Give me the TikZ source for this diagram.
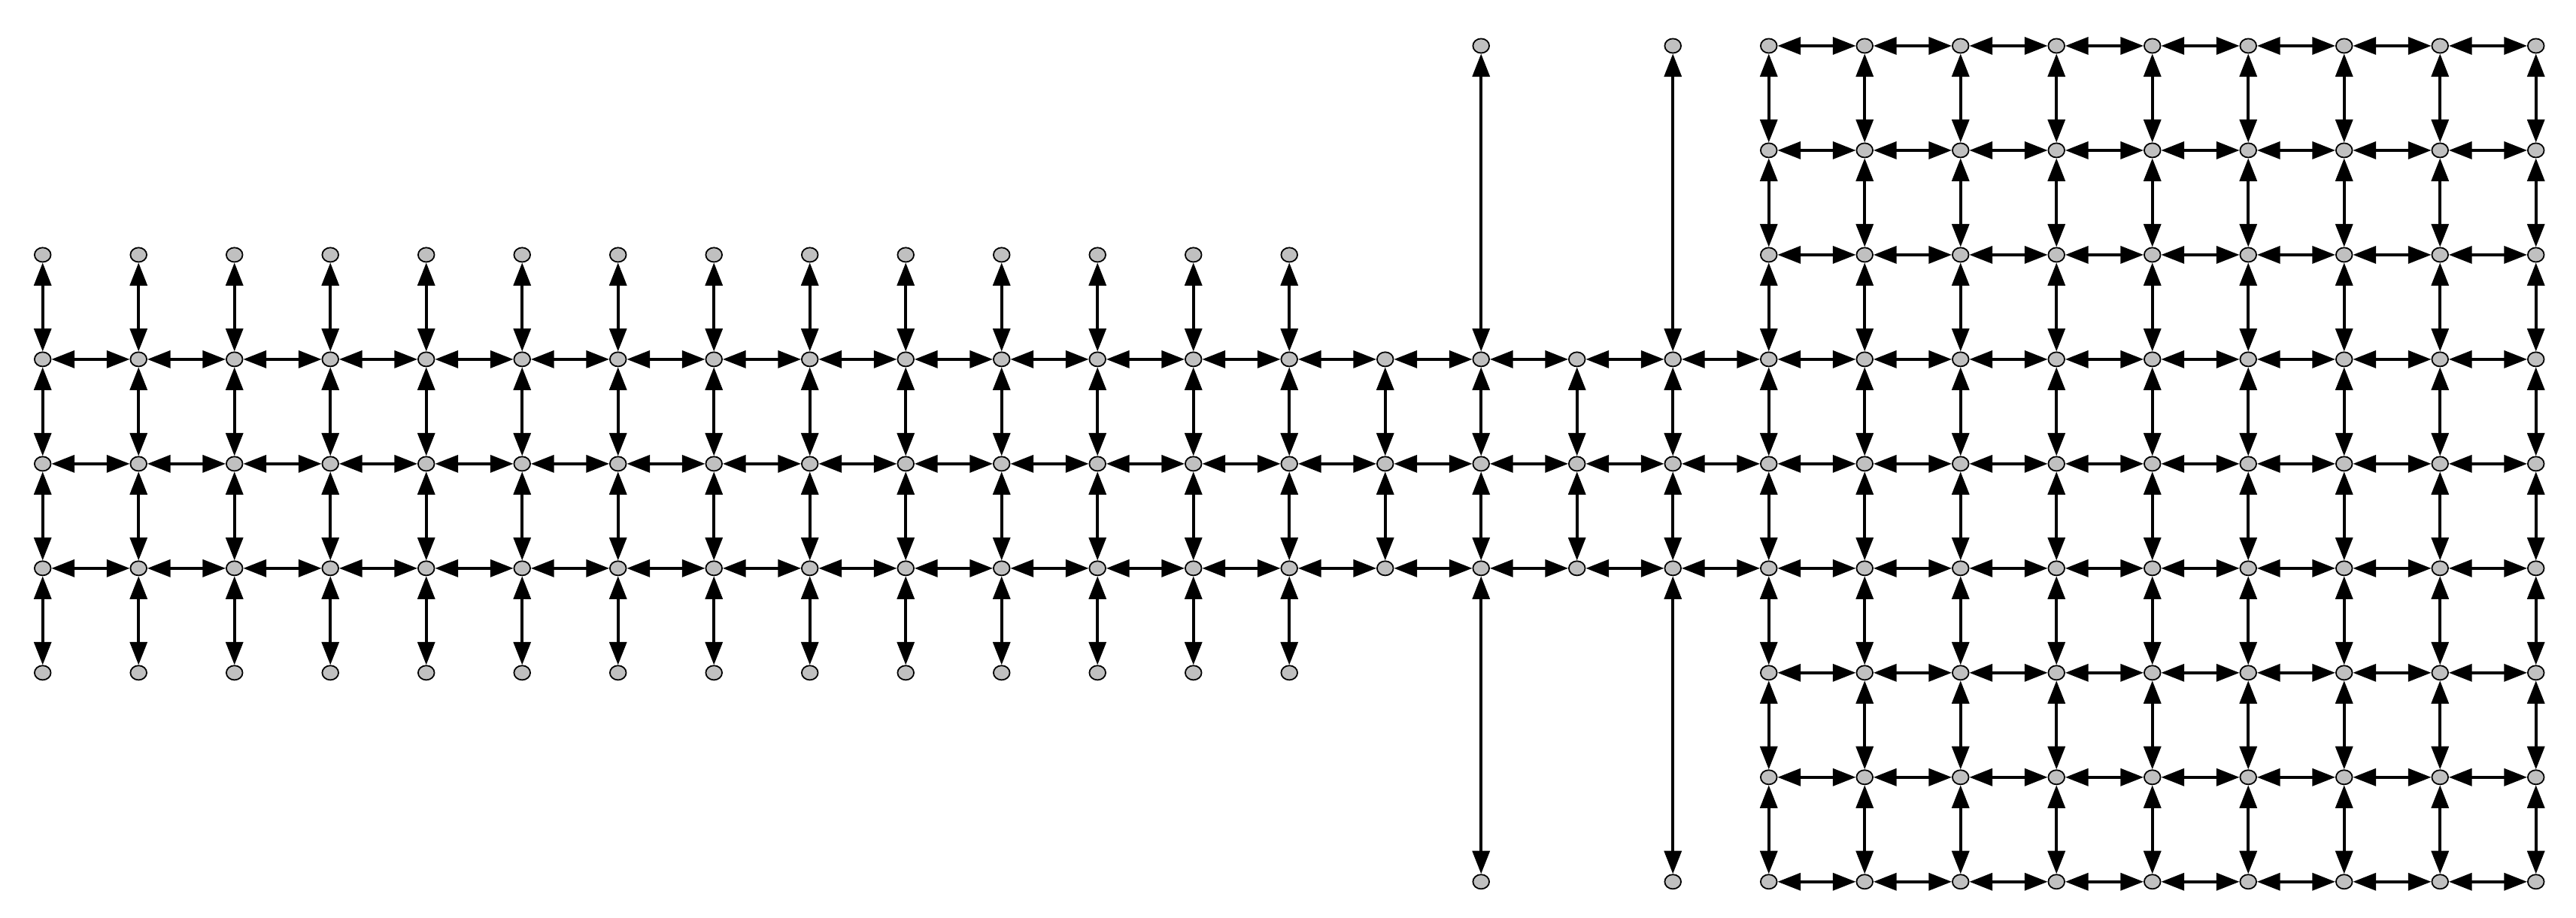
\documentclass[tikz,border=0pt]{standalone}
\usetikzlibrary{arrows.meta,shapes.geometric}
\definecolor{vgray}{RGB}{192,192,192}
\tikzset{
  vtx/.style={ellipse,draw=black,fill=vgray,line width=0.4pt,minimum width=1.7mm,minimum height=1.5mm,inner sep=0pt},
  link/.style={{Triangle[length=2.4mm,width=1.8mm]}-{Triangle[length=2.4mm,width=1.8mm]},line width=0.8pt}
}

\begin{document}
\begin{tikzpicture}[x=1cm,y=1.09cm]
  \useasboundingbox (-0.445,-0.345) rectangle (26.418,8.439);
  % left comb
  \foreach \i in {0,...,13}
    \foreach \j in {2,...,6}
      \node[vtx] (v\i-\j) at (\i,8-\j) {};
  % narrow middle part
  \foreach \i in {14,...,17}
    \foreach \j in {3,4,5}
      \node[vtx] (v\i-\j) at (\i,8-\j) {};
  \foreach \i in {15,17}
    \foreach \j in {0,8}
      \node[vtx] (v\i-\j) at (\i,8-\j) {};
  % right square block
  \foreach \i in {18,...,26}
    \foreach \j in {0,...,8}
      \node[vtx] (v\i-\j) at (\i,8-\j) {};

  % rows through the whole strip
  \foreach \j in {3,4,5}
    \foreach \i [count=\k from 1] in {0,...,25}
      \draw[link] (v\i-\j) -- (v\k-\j);
  \foreach \j in {0,1,2,6,7,8}
    \foreach \i [count=\k from 19] in {18,...,25}
      \draw[link] (v\i-\j) -- (v\k-\j);
  % columns
  \foreach \i in {0,...,13}
    \foreach \j [count=\k from 3] in {2,...,5}
      \draw[link] (v\i-\j) -- (v\i-\k);
  \foreach \i in {14,...,17}
    \foreach \j [count=\k from 4] in {3,4}
      \draw[link] (v\i-\j) -- (v\i-\k);
  \foreach \i in {15,17}{
    \draw[link] (v\i-0) -- (v\i-3);
    \draw[link] (v\i-5) -- (v\i-8);
  }
  \foreach \i in {18,...,26}
    \foreach \j [count=\k from 1] in {0,...,7}
      \draw[link] (v\i-\j) -- (v\i-\k);
\end{tikzpicture}
\end{document}
